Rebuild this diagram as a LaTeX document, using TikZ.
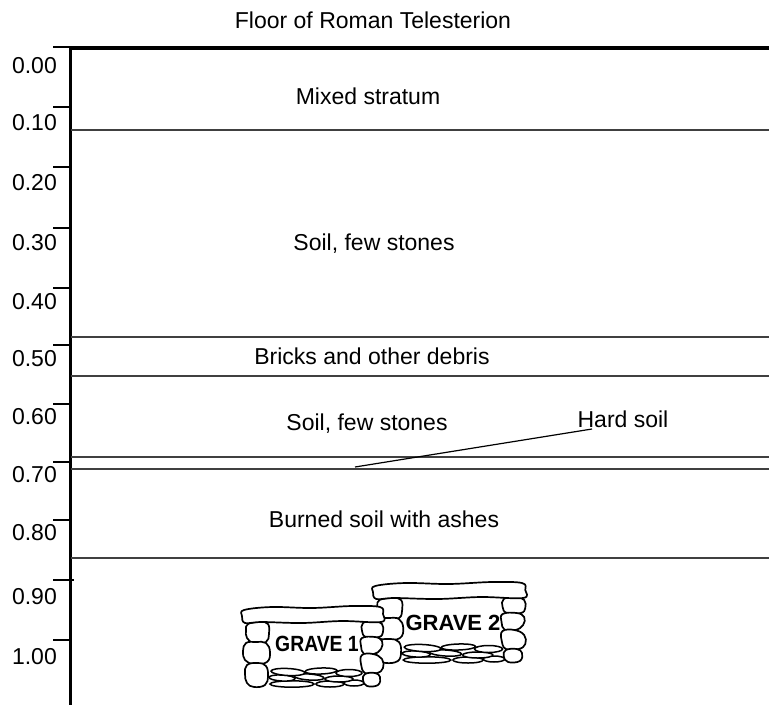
\documentclass[tikz,border=0pt]{standalone}
\usepackage{fontspec}
\setmainfont{Liberation Sans}
\begin{document}
\begin{tikzpicture}[x=1pt,y=-1pt,
  txt/.style={font=\fontsize{23}{26}\selectfont, inner sep=0pt, anchor=base},
  axlabel/.style={font=\fontsize{23}{26}\selectfont, inner sep=0pt, anchor=base east},
  gravelabel/.style={font=\bfseries\fontsize{22}{24}\selectfont, inner sep=0pt, anchor=base},
  stratum/.style={draw=black!75, line width=1.1pt},
  tick/.style={line width=2.2pt},
  stone/.style={draw=black, fill=white, line width=1.7pt, line join=round},
  flatstone/.style={draw=black, fill=white, line width=1.5pt},
  grave/.pic={
    % flat stones lining the floor
    \draw[flatstone] (50,78) ellipse [x radius=22pt, y radius=3.2pt];
    \draw[flatstone] (88,78) ellipse [x radius=14pt, y radius=3pt];
    \draw[flatstone] (112,77) ellipse [x radius=10pt, y radius=3pt];
    \draw[flatstone, rotate around={-3:(40,72)}] (40,72) ellipse [x radius=13pt, y radius=3pt];
    \draw[flatstone, rotate around={-4:(67,71)}] (67,71) ellipse [x radius=15pt, y radius=3pt];
    \draw[flatstone] (97,73) ellipse [x radius=14pt, y radius=3pt];
    \draw[flatstone, rotate around={-3:(46,66)}] (46,66) ellipse [x radius=17pt, y radius=3.5pt];
    \draw[flatstone, rotate around={2:(79,65)}] (79,65) ellipse [x radius=16pt, y radius=3pt];
    \draw[flatstone] (107,67) ellipse [x radius=13pt, y radius=3.5pt];
    % left wall
    \draw[stone] plot[smooth cycle, tension=0.7] coordinates
      {(6,18) (18,16) (26,18) (27,28) (24,36) (12,37) (5,32) (4,24)};
    \draw[stone] plot[smooth cycle, tension=0.7] coordinates
      {(4,37) (14,36) (24,37) (28,46) (25,56) (12,58) (3,54) (1,45)};
    \draw[stone] plot[smooth cycle, tension=0.7] coordinates
      {(5,59) (16,57) (24,60) (26,70) (23,79) (12,81) (5,77) (3,68)};
    % right wall
    \draw[stone] plot[smooth cycle, tension=0.7] coordinates
      {(121,17) (132,15) (140,18) (141,26) (137,31) (124,31) (120,25)};
    \draw[stone] plot[smooth cycle, tension=0.7] coordinates
      {(120,32) (133,31) (140,35) (139,43) (132,48) (122,48) (119,40)};
    \draw[stone] plot[smooth cycle, tension=0.7] coordinates
      {(120,49) (131,48) (140,53) (141,62) (135,67) (123,67) (119,58)};
    \draw[stone] plot[smooth cycle, tension=0.7] coordinates
      {(123,68) (133,67) (138,71) (136,79) (125,80) (121,74)};
    % cover slab
    \draw[stone] plot[smooth cycle, tension=0.6] coordinates
      {(2,4) (30,1) (70,2) (110,0) (138,1) (141,8) (139,16) (100,15) (60,17) (20,16) (3,17) (0,10)};
  }
  ]
\useasboundingbox (0,0) rectangle (769,705);

% title
\node[txt] (title) at (373,28) {Floor of Roman Telesterion};

% depth axis and ground surface
\draw[line width=3pt] (70,47) -- (70,705);
\draw[line width=3.5pt] (68.5,48) -- (769,48);

% depth ticks and labels
\foreach \name/\ty/\ly/\lab in {a/47/73/0.00, b/107/130/0.10, c/167/190/0.20, d/228/250/0.30,
    e/288/309/0.40, f/345/366/0.50, g/404/424/0.60, h/462/482/0.70, i/520/540/0.80,
    k/580/604/0.90, l/640/664/1.00}{
  \draw[tick] (53,\ty) -- (70,\ty);
  \node[axlabel] (lab\name) at (57,\ly) {\lab};
}
\draw[tick] (70,580) -- (74,580);

% stratum boundaries
\foreach \sy in {130,337,376,457,469,558}{
  \draw[stratum] (71,\sy) -- (769,\sy);
}

% stratum names
\node[txt] (mixed) at (368,104) {Mixed stratum};
\node[txt] (soilA) at (374,250) {Soil, few stones};
\node[txt] (bricks) at (372,364) {Bricks and other debris};
\node[txt] (soilB) at (367,430) {Soil, few stones};
\node[txt] (hard) at (623,427) {Hard soil};
\node[txt] (burned) at (384,527) {Burned soil with ashes};

% leader for the hard soil layer
\coordinate (hardtip) at (355,467);
\coordinate (hardend) at (592,429);
\draw[line width=1.2pt] (hardtip) -- (hardend);

% graves
\pic at (373,582) [xscale=1.08] {grave};
\pic at (242,606) {grave};
\node[gravelabel] (g2) at (453,630) {GRAVE 2};
\node[gravelabel, xscale=0.88] (g1) at (317,651) {GRAVE 1};
\end{tikzpicture}
\end{document}
